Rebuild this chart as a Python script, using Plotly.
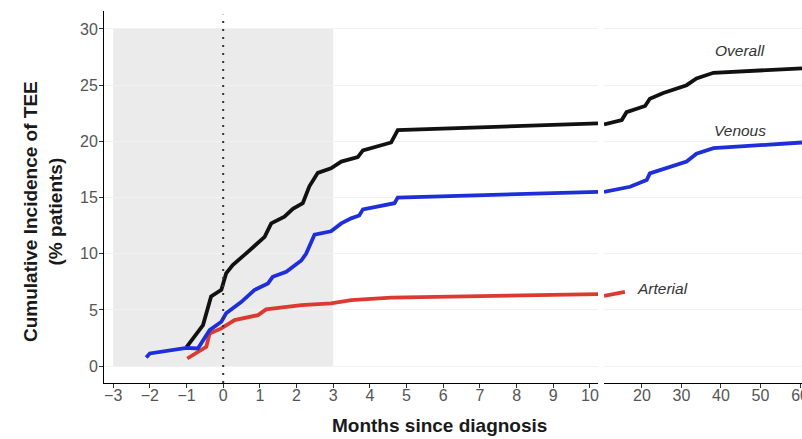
import plotly.graph_objects as go

# ---- data (months since diagnosis, cumulative incidence %) ----
overall_t1 = [-1.0, -0.55, -0.33, -0.05, 0.08, 0.26, 0.58, 1.13, 1.31, 1.67, 1.9, 2.17, 2.35, 2.58, 2.94, 3.22, 3.67, 3.81, 4.58, 4.76, 10.22]
overall_v1 = [1.7, 3.65, 6.2, 6.8, 8.25, 9.0, 9.9, 11.5, 12.7, 13.3, 14.0, 14.5, 16.0, 17.2, 17.6, 18.2, 18.6, 19.2, 19.9, 21.0, 21.6]
overall_t2 = [10.4, 14.9, 16.1, 20.8, 22.0, 25.4, 31.3, 33.8, 38.1, 60.5]
overall_v2 = [21.5, 21.9, 22.6, 23.15, 23.8, 24.3, 25.0, 25.6, 26.1, 26.5]

venous_t1 = [-2.1, -2.0, -1.0, -0.69, -0.37, -0.05, 0.08, 0.49, 0.85, 1.22, 1.35, 1.72, 2.13, 2.26, 2.49, 2.94, 3.22, 3.49, 3.71, 3.81, 4.67, 4.76, 10.22]
venous_v1 = [0.77, 1.13, 1.63, 1.57, 3.2, 3.95, 4.7, 5.7, 6.77, 7.36, 7.95, 8.4, 9.4, 10.0, 11.7, 12.0, 12.7, 13.15, 13.4, 13.95, 14.5, 15.0, 15.5]
venous_t2 = [10.4, 17.0, 21.2, 22.0, 31.3, 33.8, 38.1, 60.5]
venous_v2 = [15.5, 15.96, 16.56, 17.15, 18.2, 18.9, 19.4, 19.9]

arterial_t1 = [-0.98, -0.6, -0.46, -0.37, -0.05, 0.31, 0.95, 1.17, 2.13, 2.94, 3.49, 4.58, 10.22]
arterial_v1 = [0.68, 1.42, 1.72, 2.9, 3.36, 4.1, 4.54, 5.05, 5.43, 5.58, 5.88, 6.1, 6.4]
arterial_t2 = [10.4, 15.7]
arterial_v2 = [6.25, 6.6]

x1_ticks = list(range(-3, 11))
x2_ticks = [20, 30, 40, 50, 60]
y_ticks = [0, 5, 10, 15, 20, 25, 30]

BLACK = "#111111"
BLUE = "#1f2fd8"
RED = "#dc3a30"

fig = go.Figure()
series = [
    ("Arterial", arterial_t1, arterial_v1, arterial_t2, arterial_v2, RED),
    ("Overall", overall_t1, overall_v1, overall_t2, overall_v2, BLACK),
    ("Venous", venous_t1, venous_v1, venous_t2, venous_v2, BLUE),
]
for name, t1, v1, t2, v2, col in series:
    fig.add_trace(go.Scatter(x=t1, y=v1, mode="lines", name=name, showlegend=False,
                             line=dict(color=col, width=3.8), xaxis="x", yaxis="y"))
    fig.add_trace(go.Scatter(x=t2, y=v2, mode="lines", name=name, showlegend=False,
                             line=dict(color=col, width=3.8), xaxis="x2", yaxis="y"))

fig.add_shape(type="rect", xref="x", yref="y", x0=-3, x1=3, y0=0, y1=30,
              fillcolor="#ebebeb", line=dict(width=0), layer="below")
fig.add_shape(type="line", xref="x", yref="paper", x0=0, x1=0, y0=0, y1=0.99,
              line=dict(color="#333333", width=2, dash="2px,6px"))

tickfont = dict(family="Liberation Sans, Arial, sans-serif", size=16, color="#555555")
W, H, L, T, B = 802, 439, 104, 11, 56
PW, PH = W - L, H - T - B
split = (598 - L) / PW
split2 = (604 - L) / PW

fig.update_layout(
    width=W, height=H,
    margin=dict(l=L, r=0, t=T, b=B),
    paper_bgcolor="white", plot_bgcolor="white",
    font=dict(family="Liberation Sans, Arial, sans-serif", color="#222222"),
    xaxis=dict(domain=[0, split], range=[-3.25, 10.22], tickvals=x1_ticks,
               showline=True, linecolor="black", linewidth=1, ticks="outside",
               ticklen=4, tickcolor="#333333", showgrid=False, zeroline=False,
               tickfont=tickfont, ticklabelstandoff=-6, automargin=False),
    xaxis2=dict(domain=[split2, 1], range=[10.4, 60.5], tickvals=x2_ticks,
                showline=True, linecolor="black", linewidth=1, ticks="outside",
                ticklen=4, tickcolor="#333333", showgrid=False, zeroline=False,
                tickfont=tickfont, anchor="y", ticklabelstandoff=-6,
                ticklabeloverflow="allow", automargin=False),
    yaxis=dict(range=[-1.5, 31.6], tickvals=y_ticks, showline=True, linecolor="black",
               linewidth=1, ticks="outside", ticklen=4, tickcolor="#333333",
               showgrid=True, gridcolor="#f2f2f2", zeroline=False, tickfont=tickfont,
               ticklabelstandoff=-2, automargin=False),
)

fig.add_annotation(x=(43 - L) / PW, y=(T + PH - 212) / PH, xref="paper", yref="paper",
                   text="<b>Cumulative Incidence of TEE<br>(% patients)</b>", textangle=-90,
                   showarrow=False, font=dict(size=19, color="#1a1a1a"),
                   xanchor="center", yanchor="middle")

fig.add_annotation(x=(439 - L) / PW, y=-(426 - (T + PH)) / PH, xref="paper", yref="paper",
                   text="<b>Months since diagnosis</b>", showarrow=False,
                   font=dict(size=19, color="#1a1a1a"), xanchor="center", yanchor="middle")

labfont = dict(size=15.5, color="#333333")
fig.add_annotation(x=44.8, y=28.1, xref="x2", yref="y", text="<i>Overall</i>",
                   showarrow=False, font=labfont)
fig.add_annotation(x=44.8, y=21.0, xref="x2", yref="y", text="<i>Venous</i>",
                   showarrow=False, font=labfont)
fig.add_annotation(x=25.3, y=6.95, xref="x2", yref="y", text="<i>Arterial</i>",
                   showarrow=False, font=labfont)

fig.write_html("out.html", config={"displayModeBar": False},
               post_script="document.body.style.margin='0';document.body.style.overflow='hidden';")
